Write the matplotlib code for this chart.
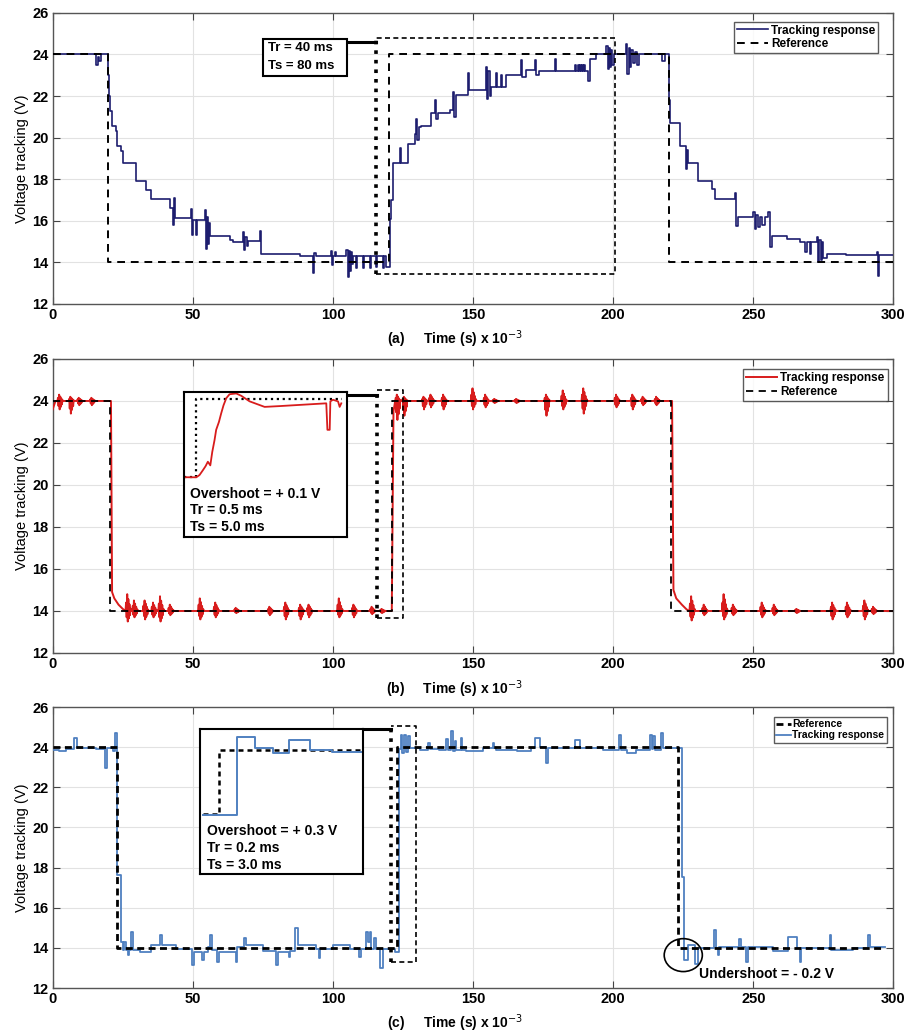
import numpy as np
import matplotlib
matplotlib.use('Agg')
import matplotlib.pyplot as plt
from matplotlib.patches import Rectangle, Ellipse

plt.rcParams['font.family'] = ['Liberation Sans', 'DejaVu Sans']

# ---------------- panel (a) : staircase response (steps-post) ----------------
a_t = [0, 15.5, 16.0, 16.6, 17.2, 19.6, 20.1, 20.6, 21.1, 22.6, 23.0, 24.4, 25.0, 29.8, 33.3, 35.0,
       41.9, 42.8, 43.2, 43.6, 49.3, 49.7, 50.1, 51.2, 51.6, 54.2, 54.6, 55.0, 55.4, 55.8, 56.2,
       63.1, 64.3, 67.9, 68.3, 68.8, 69.4, 69.8, 73.8, 74.2, 88.1, 92.9, 93.3, 93.8, 99.4, 99.8,
       100.2, 100.6, 101.0, 104.8, 105.2, 105.6, 106.0, 106.4, 106.8, 107.2, 108.3, 108.7, 110.7,
       111.1, 113.1, 113.5, 115.5, 115.9, 117.9, 118.3, 119.0, 120.2, 120.7, 121.3,
       123.8, 124.3, 126.8, 129.2, 129.7, 130.1, 130.6, 131.5, 135.1, 136.3, 136.8, 137.4, 141.6,
       142.8, 143.3, 144.0, 148.2, 148.6, 154.7, 155.1, 155.5, 155.9, 156.5, 158.3, 158.7, 159.8,
       160.2, 161.9, 167.2, 167.6, 169.0, 172.0, 172.5, 173.7, 179.1, 179.5, 186.5, 186.9, 187.3,
       187.7, 188.1, 188.5, 188.9, 189.3, 189.7, 190.1, 191.0, 191.6, 194.0, 197.6, 198.0, 198.4,
       198.8, 199.2, 199.6, 200.2, 204.7, 205.1, 205.5, 206.0, 206.5, 207.2, 207.8, 208.6, 209.2,
       217.3, 218.5, 219.9, 220.4, 223.8, 226.0, 226.4, 226.8, 230.4, 235.1, 236.3, 243.5, 243.9,
       244.6, 250.0, 250.5, 251.0, 251.6, 252.2, 253.0, 254.2, 255.4, 255.9, 256.5, 261.9, 266.7,
       268.5, 269.0, 270.2, 270.6, 272.6, 273.0, 273.5, 274.0, 274.5, 275.0, 276.2, 283.0, 294.0,
       294.4, 294.9, 300]
a_v = [24.0, 23.5, 23.9, 23.7, 24.0, 23.0, 22.0, 21.3, 20.55, 20.3, 19.6, 19.35, 18.8, 17.9, 17.5, 17.05,
       16.6, 15.8, 17.1, 16.15, 16.55, 15.3, 16.05, 15.3, 16.05, 16.5, 14.65, 16.2, 14.9, 15.9, 15.27,
       15.1, 15.0, 15.45, 14.6, 15.2, 14.8, 15.03, 15.5, 14.4, 14.32, 13.5, 14.45, 14.3, 14.55, 13.85,
       14.3, 14.5, 14.3, 14.6, 13.3, 14.55, 13.6, 14.5, 13.9, 14.3, 13.75, 14.3, 13.75,
       14.3, 13.75, 14.3, 13.8, 14.3, 13.75, 14.3, 13.8, 16.1, 17.0, 18.8,
       19.5, 18.8, 19.67, 20.15, 20.9, 19.9, 20.5, 20.55, 21.2, 21.8, 20.9, 21.2, 21.35,
       22.2, 21.0, 22.07, 23.1, 22.3, 23.4, 21.85, 23.2, 22.0, 22.45, 23.1, 22.45, 23.0,
       22.45, 23.03, 23.75, 22.9, 23.27, 23.75, 23.0, 23.19, 23.8, 23.19, 23.5, 23.19, 23.5,
       23.19, 23.5, 23.19, 23.5, 23.19, 23.5, 23.19, 22.7, 23.8, 24.0, 24.4, 23.3, 24.3,
       23.4, 24.2, 23.5, 24.0, 24.5, 23.05, 24.3, 23.4, 24.2, 23.6, 24.1, 23.5, 24.0,
       23.7, 24.0, 21.8, 20.7, 19.6, 18.5, 19.4, 18.79, 17.91, 17.51, 17.03, 17.35, 15.76,
       16.16, 16.4, 15.6, 16.3, 15.7, 16.2, 15.8, 16.16, 16.4, 14.72, 15.28, 15.12, 14.96,
       14.5, 14.96, 14.4, 14.96, 15.2, 14.0, 15.1, 14.1, 15.0, 14.2, 14.4, 14.35, 14.5,
       13.36, 14.35, 14.35]
a_ref_t = [0, 19.7, 19.7, 120.0, 120.0, 219.8, 219.8, 300]
a_ref_v = [24, 24, 14, 14, 24, 24, 14, 14]

# ---------------- panel (b) : fast response with oscillation bursts ----------------
b_t = [0, 1.0, 20.8, 21.2, 22.0, 23.5, 25.0, 26.0, 121.0, 121.6, 122.2, 221.0, 221.5, 222.5, 224.5, 226.0, 226.9, 300]
b_v = [23.6, 24.0, 24.0, 14.9, 14.6, 14.3, 14.1, 14.0, 14.0, 23.5, 24.0, 24.0, 15.0, 14.6, 14.3, 14.1, 14.0, 14.0]
b_burst_t = [2.5, 6.5, 9.5, 14.0,
             26.8, 29.2, 33.0, 36.0, 38.5, 42.0, 52.7, 58.2, 65.5, 77.5, 83.2, 88.5, 91.5, 102.3, 107.5, 114.0, 117.5,
             123.0, 125.5, 132.5, 135.0, 139.5, 150.0, 154.5, 157.7, 165.5, 176.2, 182.2, 189.5, 201.2, 207.0, 210.7, 215.5,
             228.0, 232.5, 239.6, 242.9, 253.2, 257.5, 265.5, 278.3, 283.6, 289.8, 292.9]
b_burst_lvl = [24] * 4 + [14] * 17 + [24] * 16 + [14] * 11
b_burst_hi = [24.3, 24.2, 24.15, 24.15,
              14.8, 14.5, 14.5, 14.4, 14.7, 14.3, 14.6, 14.4, 14.15, 14.2, 14.4, 14.3, 14.3, 14.6, 14.3, 14.2, 14.1,
              24.3, 24.2, 24.2, 24.3, 24.3, 24.6, 24.3, 24.1, 24.1, 24.3, 24.5, 24.6, 24.3, 24.3, 24.2, 24.2,
              14.7, 14.3, 14.8, 14.3, 14.4, 14.3, 14.1, 14.4, 14.4, 14.5, 14.2]
b_burst_lo = [23.6, 23.4, 23.8, 23.8,
              13.5, 13.7, 13.6, 13.7, 13.5, 13.8, 13.6, 13.7, 13.9, 13.8, 13.6, 13.6, 13.7, 13.7, 13.7, 13.85, 13.9,
              23.1, 23.3, 23.6, 23.7, 23.6, 23.6, 23.7, 23.9, 23.9, 23.3, 23.6, 23.4, 23.7, 23.6, 23.8, 23.8,
              13.55, 13.8, 13.6, 13.8, 13.7, 13.8, 13.9, 13.6, 13.7, 13.6, 13.85]
b_ref_t = [0, 20.5, 20.5, 120.9, 120.9, 220.5, 220.5, 300]
b_ref_v = [24, 24, 14, 14, 24, 24, 14, 14]
# zoomed step inside the inset box of (b)
bi_t = [0, 0.78, 0.98, 1.19, 1.35, 1.49, 1.64, 1.76, 1.90, 2.0, 2.17, 2.31, 2.45, 2.62, 2.82, 3.23, 3.54,
        4.05, 4.97, 5.89, 8.75, 8.82, 8.96, 9.0, 9.16, 9.47, 9.57, 9.67]
bi_v = [14.1, 14.09, 14.38, 15.0, 15.5, 16.06, 15.6, 17.3, 18.8, 20.1, 21.1, 22.2, 23.2, 24.1, 24.6, 24.7, 24.4,
        23.7, 23.0, 23.1, 23.45, 20.1, 20.1, 23.7, 23.9, 23.7, 23.0, 23.45]
bi_ref_t = [0, 0.74, 0.74, 9.7]
bi_ref_v = [14.1, 14.1, 24.0, 24.0]

# ---------------- panel (c) : quantised response (steps-post) ----------------
c_t = [0, 2.4, 4.8, 7.7, 8.6, 15.5, 18.8, 19.5, 21.4, 22.4, 23.0, 24.5, 25.2, 25.6, 26.2, 26.8, 27.4, 28.1,
       28.6, 31.0, 35.1, 38.4, 39.0, 44.0, 49.7, 50.3, 53.4, 53.9, 55.4, 56.3, 56.9, 58.7, 59.3, 65.3, 65.9,
       68.3, 68.9, 75.0, 79.8, 80.4, 84.3, 84.8, 86.3, 87.5, 94.0, 95.0, 95.5, 100.0, 106.0, 109.3, 109.9,
       111.9, 112.5, 113.1, 113.6, 114.8, 115.3, 116.7, 117.9, 122.0, 123.4, 124.2, 124.8, 125.4, 126.0,
       126.8, 127.4, 131.0, 134.0, 134.6, 138.0, 140.3, 140.9, 142.3, 143.0, 143.5, 144.0, 145.6, 146.2,
       147.6, 153.6, 157.0, 157.6, 158.3, 165.5, 170.8, 172.0, 173.8, 176.0, 176.6, 186.3, 188.1, 196.4,
       202.2, 202.8, 204.8, 208.0, 213.1, 213.7, 214.2, 214.8, 217.1, 217.7, 224.6, 225.2, 226.6, 229.2,
       230.4, 236.0, 236.6, 237.3, 237.9, 245.0, 245.6, 247.4, 248.0, 257.1, 262.5, 265.5, 266.5, 267.1,
       277.2, 277.8, 285.7, 290.9, 291.5, 297.0]
c_v = [23.85, 23.80, 23.92, 24.46, 23.97, 23.89, 22.98, 23.97, 23.80, 24.71, 17.61, 14.31, 13.9, 14.31, 13.9, 13.65,
       13.9, 14.81, 13.9, 13.78, 14.15, 14.64, 14.15, 13.95, 13.16, 13.82, 13.40, 13.82, 14.06, 14.64, 13.9,
       13.32, 13.82, 13.32, 14.06, 14.48, 14.15, 13.85, 13.16, 13.82, 13.57, 13.85, 14.97, 14.15, 13.95,
       13.49, 13.95, 14.15, 13.95, 13.57, 13.95, 14.81, 14.3, 14.81, 13.95, 14.5, 13.95, 12.99, 13.95, 13.8,
       23.9, 24.6, 23.7, 24.6, 23.75, 24.55, 23.95, 23.88, 24.2, 23.9, 23.85, 24.4, 23.88, 24.79, 23.8, 24.3,
       23.85, 24.46, 23.88, 23.80, 23.97, 24.21, 23.97, 23.88, 23.80, 23.97, 24.46, 24.0, 23.22, 23.97, 24.38,
       23.97, 23.85, 24.63, 23.85, 23.72, 23.85, 24.63, 23.9, 24.55, 23.85, 24.71, 23.97, 17.52, 13.39, 14.13,
       13.22, 13.97, 14.88, 13.97, 13.64, 14.05, 14.46, 14.05, 13.31, 14.05, 13.83, 14.55, 13.97, 13.31,
       13.97, 14.63, 13.90, 13.97, 14.63, 14.05, 14.05]
c_ref_t = [0, 22.8, 22.8, 123.0, 123.0, 223.2, 223.2, 297]
c_ref_v = [24, 24, 14, 14, 24, 24, 14, 14]
# zoomed step inside the inset box of (c)
ci_t = [0.2, 2.31, 2.31, 3.37, 3.37, 4.5, 4.5, 5.5, 5.5, 6.78, 6.78, 8.1, 8.1, 9.9]
ci_v = [20.6, 20.6, 24.66, 24.66, 24.07, 24.07, 23.85, 23.85, 24.5, 24.5, 24.0, 24.0, 23.9, 23.9]
ci_ref_t = [0.2, 1.22, 1.22, 9.9]
ci_ref_v = [20.65, 20.65, 24.0, 24.0]

navy = '#1d1d6e'
red = '#d81c1c'
steel = '#4f80c0'


def style_axes(ax, tag):
    ax.set_xlim(0, 300)
    ax.set_ylim(12, 26)
    ax.set_xticks(np.arange(0, 301, 50))
    ax.set_yticks(np.arange(12, 27, 2))
    ax.grid(True, color='#e2e2e2', lw=0.8)
    ax.set_axisbelow(True)
    ax.tick_params(direction='in', length=5, top=True, right=True, labelsize=10.5, pad=3, color='#444')
    for lab in ax.get_xticklabels() + ax.get_yticklabels():
        lab.set_fontweight('bold')
    for s in ax.spines.values():
        s.set_color('#555')
        s.set_linewidth(1.0)
    ax.set_ylabel('Voltage tracking (V)', fontsize=10.5, labelpad=2)
    ax.set_xlabel(tag + r'     Time (s) x 10$^{-3}$', fontsize=10, fontweight='bold')
    ax.xaxis.set_label_coords(0.478, -0.085)


def zoom_rect(ax, t0, t1, v0, v1, con_t, con_v):
    ax.plot([t0, t1, t1, t0], [v0, v0, v1, v1], ls='--', color='k', lw=1.2, dashes=(3, 2), zorder=6)
    ax.plot([t0, t0], [v0, v1], ls=':', color='k', lw=2.6, zorder=6)
    ax.plot([con_t, t0], [con_v, con_v], color='k', lw=2.2, zorder=6)


fig = plt.figure(figsize=(9.08, 10.36), dpi=100)
axa = fig.add_axes([0.058, 0.7066, 0.926, 0.281])
axb = fig.add_axes([0.058, 0.3697, 0.926, 0.2838])
axc = fig.add_axes([0.058, 0.0463, 0.926, 0.2712])

# (a)
axa.plot(a_t, a_v, drawstyle='steps-post', color=navy, lw=1.2, label='Tracking response', zorder=3)
axa.plot(a_ref_t, a_ref_v, color='k', ls='--', lw=1.4, dashes=(4, 3), label='Reference', zorder=4)
zoom_rect(axa, 115.2, 200.5, 13.45, 24.8, 105.1, 24.6)
axa.add_patch(Rectangle((75, 22.96), 30.1, 1.76, fc='white', ec='k', lw=1.5, zorder=7))
axa.text(76.8, 24.3, 'Tr = 40 ms', fontsize=9.5, fontweight='bold', va='center', zorder=8)
axa.text(76.8, 23.42, 'Ts = 80 ms', fontsize=9.5, fontweight='bold', va='center', zorder=8)
leg = axa.legend(loc='upper right', bbox_to_anchor=(0.989, 0.99), frameon=True, fancybox=False,
                 edgecolor='#333', handlelength=2.6, borderpad=0.25, labelspacing=0.15, handletextpad=0.3,
                 prop={'weight': 'bold', 'size': 8.5})
leg.get_frame().set_linewidth(1.0)
style_axes(axa, '(a)')

# (b) each burst drawn as a short decaying zigzag between its read hi/lo values
pts_t = list(b_t)
pts_v = list(b_v)
offs = [-0.8, -0.6, -0.4, -0.2, 0.0, 0.2, 0.4, 0.6, 0.8, 1.0, 1.3]
for t, lvl, hi, lo in zip(b_burst_t, b_burst_lvl, b_burst_hi, b_burst_lo):
    up = hi - lvl
    dn = lvl - lo
    shape = [lvl, lvl + up * 0.5, lvl - dn * 0.6, lvl + up, lvl - dn, lvl + up * 0.7,
             lvl - dn * 0.7, lvl + up * 0.4, lvl - dn * 0.4, lvl + up * 0.15, lvl]
    pts_t += [t + o for o in offs]
    pts_v += shape
order = np.argsort(pts_t, kind='stable')
axb.plot(np.array(pts_t)[order], np.array(pts_v)[order], color=red, lw=1.4, label='Tracking response', zorder=3)
axb.plot(b_ref_t, b_ref_v, color='k', ls='--', lw=1.3, dashes=(4, 3), label='Reference', zorder=4)
zoom_rect(axb, 115.6, 124.9, 13.67, 24.52, 104.9, 24.29)
insb = axb.inset_axes([46.7, 17.52, 58.2, 6.91], transform=axb.transData, zorder=7)
insb.plot(bi_ref_t, bi_ref_v, color='k', ls=':', lw=1.6)
insb.plot(bi_t, bi_v, color=red, lw=1.3)
insb.set_xlim(0, 10)
insb.set_ylim(6.53, 24.89)
insb.set_xticks([])
insb.set_yticks([])
for s in insb.spines.values():
    s.set_linewidth(1.5)
insb.text(0.037, 0.30, 'Overshoot = + 0.1 V', transform=insb.transAxes, fontsize=10, fontweight='bold', va='center')
insb.text(0.037, 0.186, 'Tr = 0.5 ms', transform=insb.transAxes, fontsize=10, fontweight='bold', va='center')
insb.text(0.037, 0.07, 'Ts = 5.0 ms', transform=insb.transAxes, fontsize=10, fontweight='bold', va='center')
leg = axb.legend(loc='upper right', bbox_to_anchor=(1.0, 0.986), fancybox=False, edgecolor='#333',
                 handlelength=2.6, borderpad=0.25, labelspacing=0.15, handletextpad=0.3,
                 prop={'weight': 'bold', 'size': 8.5})
leg.get_frame().set_linewidth(1.0)
style_axes(axb, '(b)')

# (c)
axc.plot(c_ref_t, c_ref_v, color='k', ls='--', lw=2.0, dashes=(2.5, 1.6), label='Reference', zorder=4)
axc.plot(c_t, c_v, drawstyle='steps-post', color=steel, lw=1.3, label='Tracking response', zorder=3)
zoom_rect(axc, 120.8, 129.7, 13.32, 25.04, 110.7, 24.91)
insc = axc.inset_axes([52.4, 17.7, 58.3, 7.21], transform=axc.transData, zorder=7)
insc.plot(ci_ref_t, ci_ref_v, color='k', ls='--', lw=1.8, dashes=(2, 1.6))
insc.plot(ci_t, ci_v, color=steel, lw=1.4)
insc.set_xlim(0, 10)
insc.set_ylim(17.53, 25.09)
insc.set_xticks([])
insc.set_yticks([])
for s in insc.spines.values():
    s.set_linewidth(1.5)
insc.text(0.043, 0.295, 'Overshoot = + 0.3 V', transform=insc.transAxes, fontsize=10, fontweight='bold', va='center')
insc.text(0.043, 0.178, 'Tr = 0.2 ms', transform=insc.transAxes, fontsize=10, fontweight='bold', va='center')
insc.text(0.043, 0.062, 'Ts = 3.0 ms', transform=insc.transAxes, fontsize=10, fontweight='bold', va='center')
axc.add_patch(Ellipse((225, 13.64), 13.6, 1.64, fill=False, ec='k', lw=1.2, zorder=6))
axc.text(230.5, 12.68, 'Undershoot = - 0.2 V', fontsize=10, fontweight='bold', va='center', zorder=6)
leg = axc.legend(loc='upper right', bbox_to_anchor=(0.998, 0.982), fancybox=False, edgecolor='#333',
                 handlelength=1.5, borderpad=0.2, labelspacing=0.1, handletextpad=0.1,
                 prop={'weight': 'bold', 'size': 7.5})
leg.get_frame().set_linewidth(1.0)
style_axes(axc, '(c)')

fig.savefig('out.png', dpi=100)
